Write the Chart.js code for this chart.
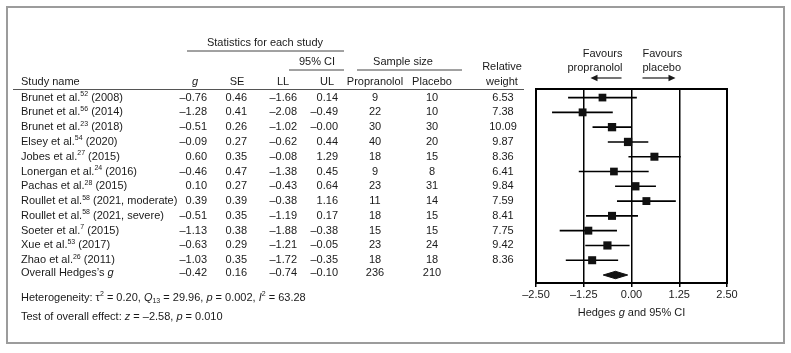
<!DOCTYPE html>
<html>
<head>
<meta charset="utf-8">
<script src="https://cdn.jsdelivr.net/npm/chart.js@4.4.0/dist/chart.umd.min.js"></script>
<style>
  html, body { margin: 0; padding: 0; background: #fff; }
  #wrap { position: relative; width: 791px; height: 353px; }
</style>
</head>
<body>
<div id="wrap"><canvas id="forest" width="791" height="353"></canvas></div>
<script>
// study rows, top to bottom
const authors = ["Brunet et al.", "Brunet et al.", "Brunet et al.", "Elsey et al.", "Jobes et al.",
  "Lonergan et al.", "Pachas et al.", "Roullet et al.", "Roullet et al.", "Soeter et al.",
  "Xue et al.", "Zhao et al."];
const refs = ["52", "56", "23", "54", "27", "24", "28", "58", "58", "7", "53", "26"];
const years = ["(2008)", "(2014)", "(2018)", "(2020)", "(2015)", "(2016)", "(2015)",
  "(2021, moderate)", "(2021, severe)", "(2015)", "(2017)", "(2011)"];
const hedgesG = [-0.76, -1.28, -0.51, -0.09, 0.60, -0.46, 0.10, 0.39, -0.51, -1.13, -0.63, -1.03];
const stdErr = [0.46, 0.41, 0.26, 0.27, 0.35, 0.47, 0.27, 0.39, 0.35, 0.38, 0.29, 0.35];
const lowerCI = [-1.66, -2.08, -1.02, -0.62, -0.08, -1.38, -0.43, -0.38, -1.19, -1.88, -1.21, -1.72];
const upperCI = [0.14, -0.49, -0.00, 0.44, 1.29, 0.45, 0.64, 1.16, 0.17, -0.38, -0.05, -0.35];
const nPropranolol = [9, 22, 30, 40, 18, 9, 23, 11, 18, 15, 23, 18];
const nPlacebo = [10, 10, 30, 20, 15, 8, 31, 14, 15, 15, 24, 18];
const relWeight = [6.53, 7.38, 10.09, 9.87, 8.36, 6.41, 9.84, 7.59, 8.41, 7.75, 9.42, 8.36];

// pooled estimate
const overallG = -0.42;
const overallSE = 0.16;
const overallLL = -0.74;
const overallUL = -0.10;
const overallProp = 236;
const overallPlac = 210;

const xTicks = [-2.5, -1.25, 0, 1.25, 2.5];

const FONT = '"Liberation Sans", Arial, sans-serif';
const INK = "#1a1a1a";
const overallRow = authors.length;

// table column anchors (numbers right-aligned, counts centred)
const col = { name: 21, g: 207, se: 247, ll: 297, ul: 338, prop: 375, plac: 432, wt: 503 };

const fmt = v => ((v < 0 || Object.is(v, -0)) ? "\u2013" : "") + Math.abs(v).toFixed(2);

// draw a run of text pieces: ["text", style] where style is "", "i", "sup" or "sub"
function rich(ctx, parts, x, y, align) {
  const fontFor = s => s === "i" ? `italic 11px ${FONT}`
    : (s === "sup" || s === "sub") ? `7px ${FONT}` : `11px ${FONT}`;
  let w = 0;
  parts.forEach(([t, s]) => { ctx.font = fontFor(s); w += ctx.measureText(t).width; });
  let cx = align === "right" ? x - w : align === "center" ? x - w / 2 : x;
  ctx.textAlign = "left";
  ctx.textBaseline = "middle";
  parts.forEach(([t, s]) => {
    ctx.font = fontFor(s);
    const dy = s === "sup" ? -3.5 : s === "sub" ? 3 : 0;
    ctx.fillText(t, cx, y + dy);
    cx += ctx.measureText(t).width;
  });
}

function hline(ctx, x1, x2, y, color, width) {
  ctx.beginPath();
  ctx.strokeStyle = color;
  ctx.lineWidth = width;
  ctx.moveTo(x1, y);
  ctx.lineTo(x2, y);
  ctx.stroke();
}

function arrow(ctx, xFrom, xTo, y) {
  const dir = Math.sign(xTo - xFrom);
  ctx.beginPath();
  ctx.strokeStyle = INK;
  ctx.lineWidth = 1.2;
  ctx.moveTo(xFrom, y);
  ctx.lineTo(xTo - dir * 5, y);
  ctx.stroke();
  ctx.beginPath();
  ctx.fillStyle = INK;
  ctx.moveTo(xTo, y);
  ctx.lineTo(xTo - dir * 7, y - 3.2);
  ctx.lineTo(xTo - dir * 7, y + 3.2);
  ctx.closePath();
  ctx.fill();
}

const tablePlugin = {
  id: "tablePlugin",
  beforeDraw(chart) {
    const ctx = chart.ctx;
    ctx.save();
    ctx.fillStyle = "#fff";
    ctx.fillRect(0, 0, chart.width, chart.height);
    ctx.strokeStyle = "#9c9c9c";
    ctx.lineWidth = 2;
    ctx.strokeRect(7, 7, 777, 336);
    ctx.restore();
  },
  afterDraw(chart) {
    const ctx = chart.ctx;
    const ys = chart.scales.y;
    const xs = chart.scales.x;
    const area = chart.chartArea;
    ctx.save();
    ctx.fillStyle = INK;

    // group headers
    rich(ctx, [["Statistics for each study", ""]], 265, 43, "center");
    hline(ctx, 187, 344, 51, "#444", 1);
    rich(ctx, [["95% CI", ""]], 317, 62, "center");
    hline(ctx, 289, 344, 70, "#444", 1);
    rich(ctx, [["Sample size", ""]], 403, 62, "center");
    hline(ctx, 357, 462, 70, "#444", 1);
    rich(ctx, [["Relative", ""]], col.wt - 1, 67, "center");

    // column headers
    const hy = 82;
    rich(ctx, [["Study name", ""]], col.name, hy, "left");
    rich(ctx, [["g", "i"]], 195, hy, "center");
    rich(ctx, [["SE", ""]], 237, hy, "center");
    rich(ctx, [["LL", ""]], 283, hy, "center");
    rich(ctx, [["UL", ""]], 327, hy, "center");
    rich(ctx, [["Propranolol", ""]], col.prop, hy, "center");
    rich(ctx, [["Placebo", ""]], col.plac, hy, "center");
    rich(ctx, [["weight", ""]], col.wt - 1, hy, "center");
    hline(ctx, 13, 524, 89.5, "#555", 1);

    // study rows
    authors.forEach((a, i) => {
      const y = ys.getPixelForValue(i);
      rich(ctx, [[a, ""], [refs[i], "sup"], [" " + years[i], ""]], col.name, y, "left");
      rich(ctx, [[fmt(hedgesG[i]), ""]], col.g, y, "right");
      rich(ctx, [[fmt(stdErr[i]), ""]], col.se, y, "right");
      rich(ctx, [[fmt(lowerCI[i]), ""]], col.ll, y, "right");
      rich(ctx, [[fmt(upperCI[i]), ""]], col.ul, y, "right");
      rich(ctx, [[String(nPropranolol[i]), ""]], col.prop, y, "center");
      rich(ctx, [[String(nPlacebo[i]), ""]], col.plac, y, "center");
      rich(ctx, [[relWeight[i].toFixed(2), ""]], col.wt, y, "center");
    });

    // overall row
    const oy = ys.getPixelForValue(overallRow) - 2;
    rich(ctx, [["Overall Hedges\u2019s ", ""], ["g", "i"]], col.name, oy, "left");
    rich(ctx, [[fmt(overallG), ""]], col.g, oy, "right");
    rich(ctx, [[fmt(overallSE), ""]], col.se, oy, "right");
    rich(ctx, [[fmt(overallLL), ""]], col.ll, oy, "right");
    rich(ctx, [[fmt(overallUL), ""]], col.ul, oy, "right");
    rich(ctx, [[String(overallProp), ""]], col.prop, oy, "center");
    rich(ctx, [[String(overallPlac), ""]], col.plac, oy, "center");

    // footer stats
    rich(ctx, [["Heterogeneity: \u03c4", ""], ["2", "sup"], [" = 0.20, ", ""], ["Q", "i"], ["13", "sub"],
      [" = 29.96, ", ""], ["p", "i"], [" = 0.002, ", ""], ["I", "i"], ["2", "sup"], [" = 63.28", ""]], col.name, 298, "left");
    rich(ctx, [["Test of overall effect: ", ""], ["z", "i"], [" = \u20132.58, ", ""], ["p", "i"], [" = 0.010", ""]],
      col.name, 317, "left");

    // favours labels and arrows above the plot
    const x0 = xs.getPixelForValue(0);
    rich(ctx, [["Favours", ""]], x0 - 9, 54, "right");
    rich(ctx, [["propranolol", ""]], x0 - 9, 68, "right");
    rich(ctx, [["Favours", ""]], x0 + 11, 54, "left");
    rich(ctx, [["placebo", ""]], x0 + 11, 68, "left");
    arrow(ctx, x0 - 10, x0 - 41, 78);
    arrow(ctx, x0 + 11, x0 + 44, 78);

    // plot frame
    ctx.strokeStyle = "#000";
    ctx.lineWidth = 2;
    ctx.strokeRect(area.left, area.top, area.right - area.left, area.bottom - area.top);

    // axis title
    rich(ctx, [["Hedges ", ""], ["g", "i"], [" and 95% CI", ""]], (area.left + area.right) / 2, 313, "center");
    ctx.restore();
  }
};

const ciSets = authors.map((a, i) => ({
  label: "ci" + i,
  data: [{ x: lowerCI[i], y: i }, { x: upperCI[i], y: i }],
  showLine: true,
  borderColor: "#000",
  borderWidth: 1.6,
  pointRadius: 0,
  order: 2
}));

const pointSet = {
  label: "Hedges g",
  data: hedgesG.map((g, i) => ({ x: g, y: i })),
  pointStyle: "rect",
  pointRadius: relWeight.map(w => (6.6 + 0.17 * w) / Math.SQRT2),
  backgroundColor: "#111",
  borderColor: "#111",
  borderWidth: 0,
  order: 1
};

const diamondSet = {
  label: "Overall",
  data: [
    { x: overallLL, y: overallRow },
    { x: overallG, y: overallRow - 0.25 },
    { x: overallUL, y: overallRow },
    { x: overallG, y: overallRow + 0.25 },
    { x: overallLL, y: overallRow }
  ],
  showLine: true,
  fill: "shape",
  backgroundColor: "#111",
  borderColor: "#111",
  borderWidth: 1,
  pointRadius: 0,
  tension: 0,
  order: 1
};

new Chart(document.getElementById("forest"), {
  type: "scatter",
  data: { datasets: [...ciSets, pointSet, diamondSet] },
  options: {
    responsive: false,
    animation: false,
    layout: { padding: { left: 536, right: 64, top: 89, bottom: 40 } },
    plugins: { legend: { display: false }, tooltip: { enabled: false } },
    scales: {
      x: {
        type: "linear",
        min: -2.5,
        max: 2.5,
        afterFit: s => { s.height = 30; },
        afterBuildTicks: s => { s.ticks = xTicks.map(v => ({ value: v })); },
        ticks: {
          color: INK,
          padding: 1,
          font: { family: FONT, size: 11 },
          callback: v => fmt(v)
        },
        grid: { color: "#000", lineWidth: 1.5, tickLength: 4, tickColor: "#000" },
        border: { display: false }
      },
      y: {
        type: "linear",
        min: -0.58,
        max: 12.54,
        reverse: true,
        display: false
      }
    }
  },
  plugins: [tablePlugin]
});
</script>
</body>
</html>
